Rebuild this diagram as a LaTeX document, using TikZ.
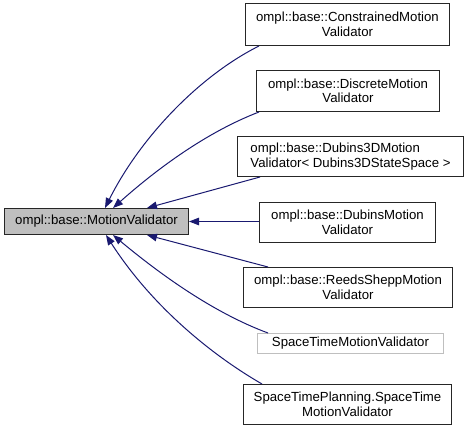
\documentclass[tikz,border=0pt]{standalone}
\usepackage{fontspec}
\setmainfont{Liberation Sans}
\usetikzlibrary{arrows.meta,calc}
\definecolor{edgeblue}{HTML}{191970}
\definecolor{greyseventyfive}{HTML}{BFBFBF}
\begin{document}
\begin{tikzpicture}[x=1pt,y=-1pt,
 box/.style={draw=black!85,line width=1pt,fill=white,anchor=north west,inner sep=0pt,align=center,font=\fontsize{13.2}{14.5}\selectfont},
 conn/.style={draw=edgeblue,line width=1pt,{Triangle[length=10pt,width=7.5pt]}-}]
\useasboundingbox (0,0) rectangle (464,431);
\node[box,fill=greyseventyfive,minimum width=184pt,minimum height=26pt] (main) at (4,208) {ompl::base::MotionValidator};
\node[box,minimum width=204pt,minimum height=42pt] (c1) at (245,3) {ompl::base::ConstrainedMotion\\Validator};
\node[box,minimum width=183pt,minimum height=41pt] (c2) at (256,70) {ompl::base::DiscreteMotion\\Validator};
\node[box,align=left,minimum width=226pt,minimum height=40pt] (c3) at (237,136) {ompl::base::Dubins3DMotion\\Validator< Dubins3DStateSpace >};
\node[box,minimum width=176pt,minimum height=40pt] (c4) at (259,202) {ompl::base::DubinsMotion\\Validator};
\node[box,minimum width=209pt,minimum height=40pt] (c5) at (243,267) {ompl::base::ReedsSheppMotion\\Validator};
\node[box,draw=greyseventyfive,minimum width=186pt,minimum height=20pt] (c6) at (257,333) {SpaceTimeMotionValidator};
\node[box,minimum width=208pt,minimum height=40pt] (c7) at (243,384) {SpaceTimePlanning.SpaceTime\\MotionValidator};
\draw[conn] ([xshift=101pt]main.north west) .. controls +(35,-70) and +(-60,30) .. ([xshift=14pt]c1.south west);
\draw[conn] ([xshift=109pt]main.north west) .. controls +(45,-40) and +(-52,20) .. ([xshift=3pt]c2.south west);
\draw[conn] ([xshift=143pt]main.north west) -- ([xshift=23pt]c3.south west);
\draw[conn] (main.east) -- (main.east -| c4.west);
\draw[conn] ([xshift=143pt]main.south west) -- ([xshift=25pt]c5.north west);
\draw[conn] ([xshift=109pt]main.south west) .. controls +(48,40) and +(-54,-20) .. ([xshift=11pt]c6.north west);
\draw[conn] ([xshift=102pt]main.south west) .. controls +(45,70) and +(-52,-30) .. ([xshift=19pt]c7.north west);
\end{tikzpicture}
\end{document}
